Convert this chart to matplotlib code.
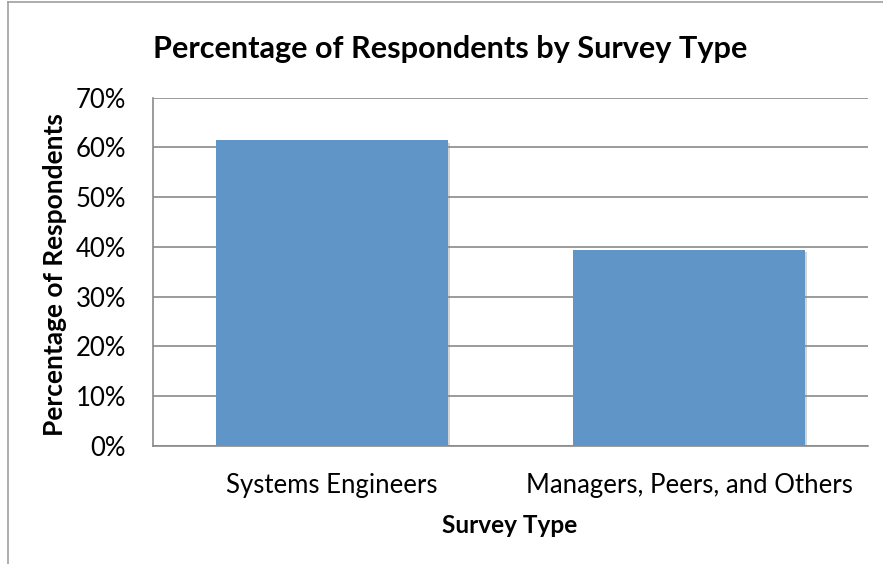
import matplotlib
matplotlib.use("Agg")
import matplotlib.pyplot as plt
import matplotlib.patheffects as pe
from matplotlib.lines import Line2D
import numpy as np

# survey share per respondent group
categories = ["Systems Engineers", "Managers, Peers, and Others"]
percentages = [61.4, 39.3]
yticks = [0, 10, 20, 30, 40, 50, 60, 70]

W, H, DPI = 883, 564, 100
plt.rcParams["font.family"] = ["Lato", "DejaVu Sans"]

fig = plt.figure(figsize=(W / DPI, H / DPI), dpi=DPI)
renderer = fig.canvas.get_renderer()
px2pt = 72 / DPI


def fit_size(text, length_px, vertical=False, **kw):
    # font size (pt) that makes the string span length_px
    t = fig.text(0, 0, text, fontsize=10, **kw)
    bb = t.get_window_extent(renderer)
    t.remove()
    return 10 * length_px / (bb.height if vertical else bb.width)


ax_left, ax_right, ax_top, ax_bottom = 153, 868, 97.7, 445.7
ax = fig.add_axes([ax_left / W, 1 - ax_bottom / H, (ax_right - ax_left) / W, (ax_bottom - ax_top) / H])

x = np.arange(len(categories))
bars = ax.bar(x, percentages, width=0.648, color="#6095C8", zorder=3)
for b in bars:
    b.set_path_effects([pe.SimplePatchShadow(offset=(1.5, -1.5), shadow_rgbFace="#888888", alpha=0.35),
                        pe.Normal()])

ax.set_xlim(-0.5, 1.5)
ax.set_ylim(0, 70)

tick_fs = fit_size(categories[0], 211)
em_px = tick_fs / px2pt
ax.set_yticks(yticks)
ax.set_yticklabels([f"{t}%" for t in yticks], fontsize=tick_fs)
ax.set_xticks(x)
ax.set_xticklabels(categories, fontsize=tick_fs)
ax.tick_params(length=0)
ax.tick_params(axis="y", pad=(ax_left - 126) * px2pt)
# category labels sit with their baseline at y=492
ax.tick_params(axis="x", pad=(492 - 0.72 * em_px - ax_bottom) * px2pt)

ax.grid(axis="y", color="#8a8a8a", linewidth=1.2, zorder=0)
ax.set_axisbelow(True)
for side in ["top", "right"]:
    ax.spines[side].set_visible(False)
for side in ["left", "bottom"]:
    ax.spines[side].set_color("#8a8a8a")
    ax.spines[side].set_linewidth(1.2)

title = "Percentage of Respondents by Survey Type"
fig.text(153 / W, 1 - 58 / H, title, fontsize=fit_size(title, 597, fontweight="bold"),
         fontweight="bold", ha="left", va="baseline")

ylab = "Percentage of Respondents"
fig.text(55 / W, 1 - 274.5 / H, ylab, fontsize=fit_size(ylab, 325, vertical=True, fontweight="bold", rotation=90),
         fontweight="bold", ha="center", va="center", rotation=90)

xlab = "Survey Type"
fig.text(510 / W, 1 - 533 / H, xlab, fontsize=fit_size(xlab, 136, fontweight="bold"),
         fontweight="bold", ha="center", va="baseline")

# chart area border (runs off the right and bottom edges)
fig.add_artist(Line2D([8 / W, 8 / W], [0, 1 - 1.5 / H], color="#a0a0a0", linewidth=1.2))
fig.add_artist(Line2D([8 / W, 1], [1 - 1.5 / H, 1 - 1.5 / H], color="#a0a0a0", linewidth=1.2))

fig.savefig("out.png", dpi=DPI)
